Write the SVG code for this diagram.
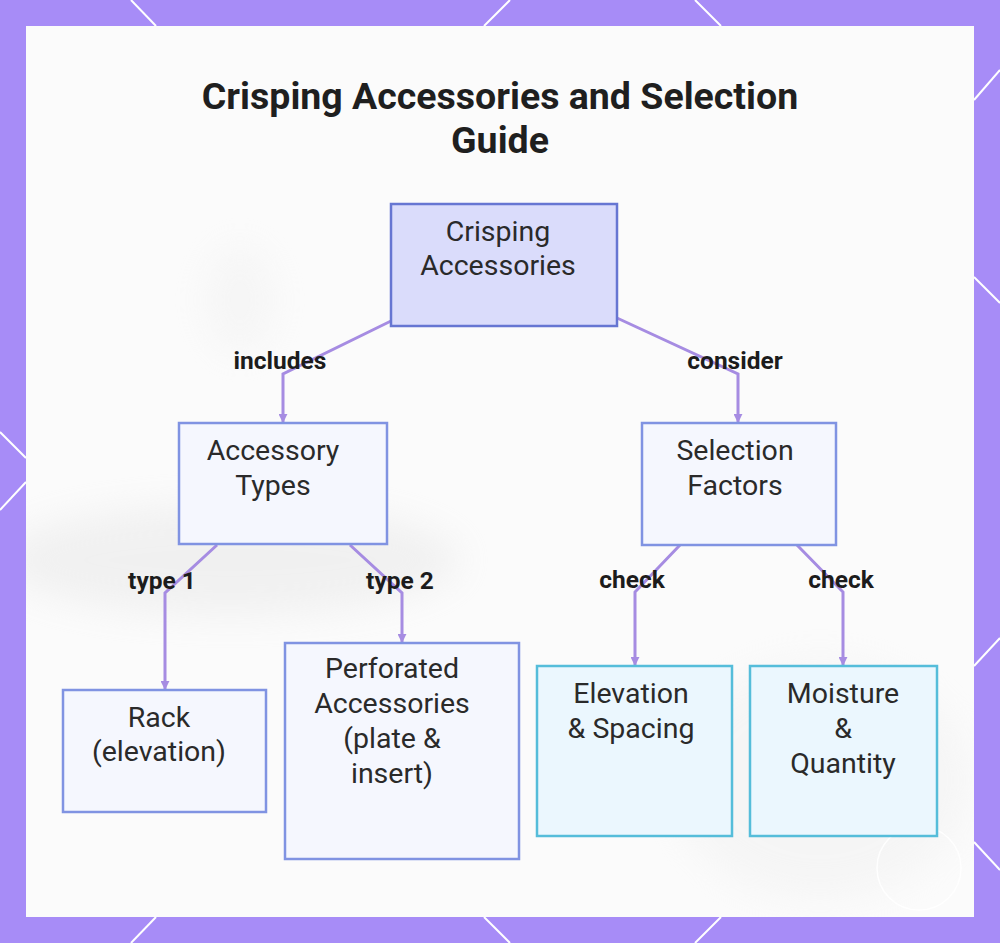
<svg xmlns="http://www.w3.org/2000/svg" width="1000" height="943" viewBox="0 0 1000 943">
<style>
.title{font-family:Roboto,"Liberation Sans",sans-serif;font-weight:700;font-size:37.5px;fill:#1f1f1f;text-anchor:middle}
.nt{font-family:Roboto,"Liberation Sans",sans-serif;font-size:28.5px;fill:#2a2a2a;text-anchor:middle}
.lbl{font-family:Roboto,"Liberation Sans",sans-serif;font-weight:700;font-size:24.5px;fill:#1c1c1c;text-anchor:middle}
.root{fill:#dadcfb;stroke:#6676d2;stroke-width:2.5}
.blue{fill:#f5f7fe;stroke:#8093e2;stroke-width:2.5}
.cyan{fill:#ebf7fe;stroke:#55bdda;stroke-width:2.5}
.edge{fill:none;stroke:#a68ce2;stroke-width:3;marker-end:url(#arr)}
.deco{stroke:#ffffff;stroke-width:2;fill:none}
</style>
<defs>
<marker id="arr" viewBox="0 0 10 10" refX="9" refY="5" markerWidth="3" markerHeight="3" orient="auto" markerUnits="strokeWidth">
<path d="M0,0 L10,5 L0,10 z" fill="#a68ce2"/>
</marker>
<filter id="blur" x="-50%" y="-50%" width="200%" height="200%"><feGaussianBlur stdDeviation="18"/></filter>
<clipPath id="panel"><rect x="26" y="26" width="948" height="891"/></clipPath>
</defs>
<rect x="0" y="0" width="1000" height="943" fill="#a78cf7"/>
<g class="deco">
<line x1="131" y1="0" x2="156" y2="26"/>
<line x1="510" y1="0" x2="484" y2="26"/>
<line x1="695" y1="0" x2="721" y2="26"/>
<line x1="131" y1="943" x2="156" y2="917"/>
<line x1="510" y1="943" x2="484" y2="917"/>
<line x1="695" y1="943" x2="721" y2="917"/>
<line x1="1000" y1="70" x2="974" y2="100"/>
<line x1="1000" y1="303" x2="974" y2="277"/>
<line x1="1000" y1="638" x2="974" y2="666"/>
<line x1="1000" y1="870" x2="974" y2="842"/>
<line x1="0" y1="432" x2="26" y2="458"/>
<line x1="0" y1="510" x2="26" y2="482"/>
</g>
<rect x="26" y="26" width="948" height="891" fill="#fbfbfb"/>
<g clip-path="url(#panel)">
<g filter="url(#blur)" opacity="0.45">
<ellipse cx="230" cy="560" rx="230" ry="55" fill="#e4e4e4"/>
<ellipse cx="820" cy="780" rx="150" ry="120" fill="#efefef"/>
<ellipse cx="240" cy="300" rx="35" ry="55" fill="#efefef"/>
</g>
</g>
<circle cx="919" cy="868" r="42" fill="none" stroke="#ffffff" stroke-width="1.5" opacity="0.9"/>
<text class="title" x="500" y="109">Crisping Accessories and Selection</text>
<text class="title" x="500" y="153">Guide</text>
<g id="connectors">
<path class="edge" d="M391,321 L283,374 L283,422"/>
<text class="lbl" x="280" y="369">includes</text>
<path class="edge" d="M617,318 L738,374 L738,422"/>
<text class="lbl" x="735" y="369">consider</text>
<path class="edge" d="M217,545 L165,593 L165,689"/>
<text class="lbl" x="162" y="589">type 1</text>
<path class="edge" d="M350,545 L402,593 L402,642"/>
<text class="lbl" x="400" y="589">type 2</text>
<path class="edge" d="M680,545 L635,592 L635,665"/>
<text class="lbl" x="632" y="588">check</text>
<path class="edge" d="M797,545 L843,592 L843,665"/>
<text class="lbl" x="841" y="588">check</text>
</g>
<g id="node-root">
<rect class="root" x="391" y="204" width="226" height="122"/>
<text class="nt" x="498" y="241">Crisping</text>
<text class="nt" x="498" y="275">Accessories</text>
</g>
<g id="node-types">
<rect class="blue" x="179" y="423" width="208" height="121"/>
<text class="nt" x="273" y="460">Accessory</text>
<text class="nt" x="273" y="495">Types</text>
</g>
<g id="node-factors">
<rect class="blue" x="642" y="423" width="194" height="122"/>
<text class="nt" x="735" y="460">Selection</text>
<text class="nt" x="735" y="495">Factors</text>
</g>
<g id="node-rack">
<rect class="blue" x="63" y="690" width="203" height="122"/>
<text class="nt" x="159" y="727">Rack</text>
<text class="nt" x="159" y="761">(elevation)</text>
</g>
<g id="node-perforated">
<rect class="blue" x="285" y="643" width="234" height="216"/>
<text class="nt" x="392" y="678">Perforated</text>
<text class="nt" x="392" y="713">Accessories</text>
<text class="nt" x="392" y="748">(plate &amp;</text>
<text class="nt" x="392" y="783">insert)</text>
</g>
<g id="node-elevation">
<rect class="cyan" x="537" y="666" width="195" height="170"/>
<text class="nt" x="631" y="703">Elevation</text>
<text class="nt" x="631" y="738">&amp; Spacing</text>
</g>
<g id="node-moisture">
<rect class="cyan" x="750" y="666" width="187" height="170"/>
<text class="nt" x="843" y="703">Moisture</text>
<text class="nt" x="843" y="738">&amp;</text>
<text class="nt" x="843" y="773">Quantity</text>
</g>
</svg>
